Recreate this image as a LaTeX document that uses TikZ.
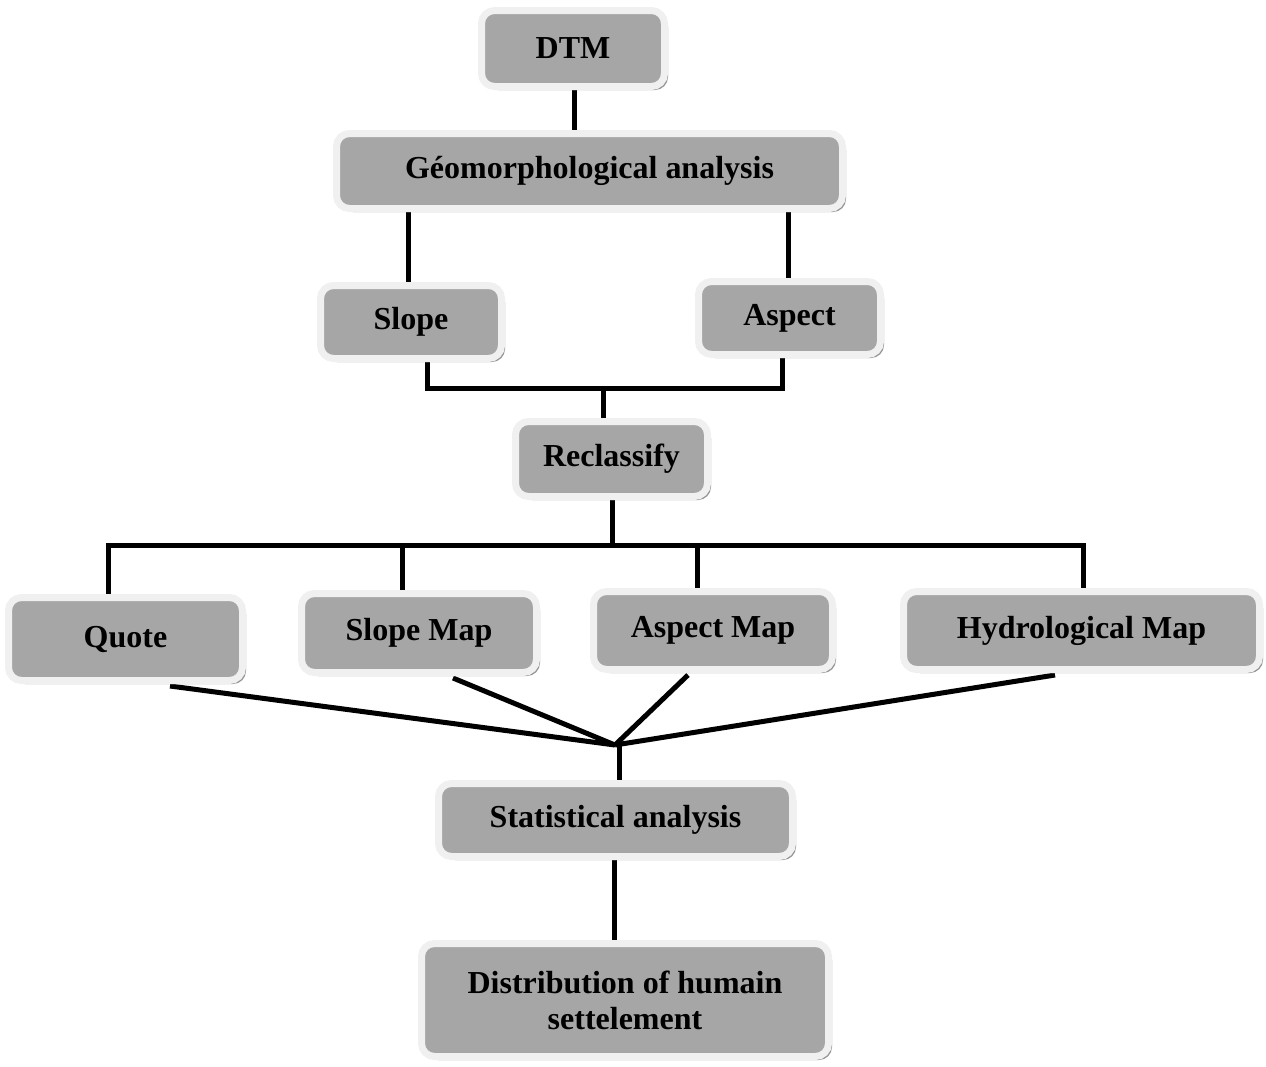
\documentclass[tikz,border=0pt]{standalone}
\usepackage{fontspec}
\setmainfont{Liberation Serif}
\usetikzlibrary{shadows,backgrounds,calc}
\definecolor{boxfill}{HTML}{A6A6A6}
\definecolor{boxedge}{HTML}{F0F0F0}
\definecolor{boxshadow}{HTML}{959595}
\tikzset{
  fbox/.style={rectangle, rounded corners=13pt, fill=boxfill, draw=boxedge, line width=7pt,
    inner sep=0pt, align=center, font=\fontsize{32}{36}\selectfont\bfseries,
    drop shadow={shadow xshift=3.5pt, shadow yshift=-3.5pt, fill=boxshadow, opacity=1}},
  conn/.style={line width=5pt, black},
}
\newcommand{\bx}[6]{\node[fbox, minimum width=#4pt-7pt, minimum height=#5pt-7pt] (#1) at (#2,#3) {#6};}
\begin{document}
\begin{tikzpicture}[x=1pt,y=-1pt]
\useasboundingbox (0,0) rectangle (1266,1066);
\bx{dtm}{573}{48.5}{190}{83}{DTM}
\bx{geo}{589.5}{171}{513}{82}{Géomorphological analysis}
\bx{slope}{411}{322}{188}{80}{Slope}
\bx{aspect}{789.5}{318}{189}{80}{Aspect}
\bx{reclass}{611.5}{459}{199}{82}{Reclassify}
\bx{quote}{125.5}{639}{241}{90}{Quote}
\bx{slopemap}{419}{633}{242}{86}{Slope Map}
\bx{aspectmap}{713}{630.5}{246}{85}{Aspect Map}
\bx{hydro}{1081.5}{630.5}{363}{85}{Hydrological Map}
\bx{stat}{615.5}{820}{361}{80}{Statistical analysis}
\bx{dist}{625}{1000}{414}{120}{Distribution of humain\\settelement}
\begin{scope}[on background layer]
\draw[conn] ([xshift=1pt]dtm.south) -- ([xshift=1pt]dtm.south |- geo.north);
\draw[conn] ([xshift=-3pt]slope.north) -- ([xshift=-3pt]slope.north |- geo.south);
\draw[conn] ([xshift=-1pt]aspect.north) -- ([xshift=-1pt]aspect.north |- geo.south);
\coordinate (j1) at ([xshift=-8.5pt]reclass.north |- 0,388);
\draw[conn] ([xshift=16pt]slope.south) |- ([xshift=-7.5pt]aspect.south |- j1) -- ([xshift=-7.5pt]aspect.south);
\draw[conn] (j1) -- (j1 |- reclass.north);
\coordinate (j2) at ([xshift=0.5pt]reclass.south |- 0,545);
\draw[conn] ([xshift=0.5pt]reclass.south) -- (j2);
\draw[conn] ([xshift=-17.5pt]quote.north) |- ([xshift=1.5pt]hydro.north |- j2) -- ([xshift=1.5pt]hydro.north);
\draw[conn] ([xshift=-17pt]slopemap.north) -- ([xshift=-17pt]slopemap.north |- j2);
\draw[conn] ([xshift=-16pt]aspectmap.north) -- ([xshift=-16pt]aspectmap.north |- j2);
\coordinate (hub) at (615,745);
\draw[conn] ([xshift=44.5pt,yshift=-2pt]quote.south) -- (hub);
\draw[conn] ([xshift=34pt,yshift=-2pt]slopemap.south) -- (hub);
\draw[conn] ([xshift=-25pt,yshift=-2pt]aspectmap.south) -- (hub);
\draw[conn] ([xshift=-26.5pt,yshift=-2pt]hydro.south) -- (hub);
\draw[conn] ([xshift=3.5pt]stat.north |- hub) -- ([xshift=3.5pt]stat.north);
\draw[conn] ([xshift=-1.5pt]stat.south) -- ([xshift=-1.5pt]stat.south |- dist.north);
\end{scope}
\end{tikzpicture}
\end{document}
